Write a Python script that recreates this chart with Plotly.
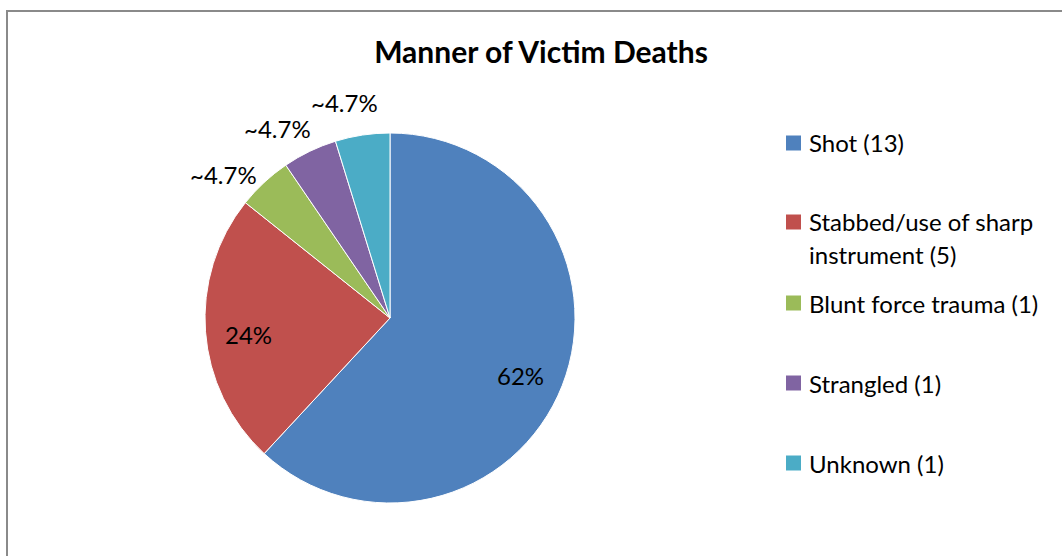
import math
import textwrap
import plotly.graph_objects as go

# ---- data ----
labels = ["Shot", "Stabbed/use of sharp instrument", "Blunt force trauma", "Strangled", "Unknown"]
counts = [13, 5, 1, 1, 1]
colors = ["#4F81BD", "#C0504D", "#9BBB59", "#8064A2", "#4BACC6"]
title = "Manner of Victim Deaths"

W, H = 1062, 556
FONT = "Lato"
FS = 24

total = sum(counts)

# pie geometry (pixels)
cx, cy, r = 390, 318, 185

fig = go.Figure()
fig.add_trace(go.Pie(
    labels=labels,
    values=counts,
    textinfo="none",
    marker=dict(colors=colors, line=dict(color="#FFFFFF", width=1)),
    sort=False,
    direction="clockwise",
    rotation=0,
    showlegend=False,
    hoverinfo="label+value+percent",
    domain=dict(x=[(cx - r) / W, (cx + r) / W], y=[1 - (cy + r) / H, 1 - (cy - r) / H]),
))

annotations = []

# slice data labels (positioned from the cumulative values)
cum = 0
for c in counts:
    p = c / total
    mid = 2 * math.pi * (cum + c / 2) / total
    cum += c
    if p < 0.1:
        txt = f"~{math.floor(p * 1000) / 10}%"
        ang = mid - math.radians(6) * (0.4 + abs(math.sin(mid)))
        rr = r * 1.19
    else:
        txt = f"{round(p * 100)}%"
        ang = mid + math.radians(2.5) * math.sin(mid)
        rr = r * 0.77
    x = cx + rr * math.sin(ang)
    y = cy - rr * math.cos(ang)
    annotations.append(dict(xref="paper", yref="paper", x=x / W, y=1 - y / H,
                            xanchor="center", yanchor="middle", showarrow=False, text=txt,
                            font=dict(family=FONT, size=FS, color="#000000")))

# manual legend
legend_y = [143, 222, 303, 383, 463]
line_h = 32
sq = 15
shapes = [dict(type="rect", xref="paper", yref="paper",
               x0=7 / W, x1=1.02, y0=-0.02, y1=1 - 11 / H,
               line=dict(color="#8A8A8A", width=2), fillcolor="rgba(0,0,0,0)")]
for lab, c, col, y in zip(labels, counts, colors, legend_y):
    shapes.append(dict(type="rect", xref="paper", yref="paper",
                       x0=786 / W, x1=(786 + sq) / W,
                       y0=1 - (y + sq / 2) / H, y1=1 - (y - sq / 2) / H,
                       line=dict(width=0), fillcolor=col))
    lines = textwrap.wrap(f"{lab} ({c})", width=22)
    for i, ln in enumerate(lines):
        annotations.append(dict(xref="paper", yref="paper", x=807 / W, y=1 - (y + i * line_h) / H,
                                xanchor="left", yanchor="middle", showarrow=False, text=ln,
                                font=dict(family=FONT, size=FS, color="#000000")))

fig.update_layout(
    width=W, height=H,
    margin=dict(l=0, r=0, t=0, b=0),
    paper_bgcolor="#FFFFFF",
    plot_bgcolor="#FFFFFF",
    title=dict(text=f"<b>{title}</b>", x=541 / W, y=1 - 52 / H, xanchor="center", yanchor="middle",
               font=dict(family=FONT, size=30, color="#000000")),
    shapes=shapes,
    annotations=annotations,
)

fig.write_html("out.html",
               config={"displayModeBar": False},
               post_script="document.body.style.margin='0';document.documentElement.style.overflow='hidden';")
